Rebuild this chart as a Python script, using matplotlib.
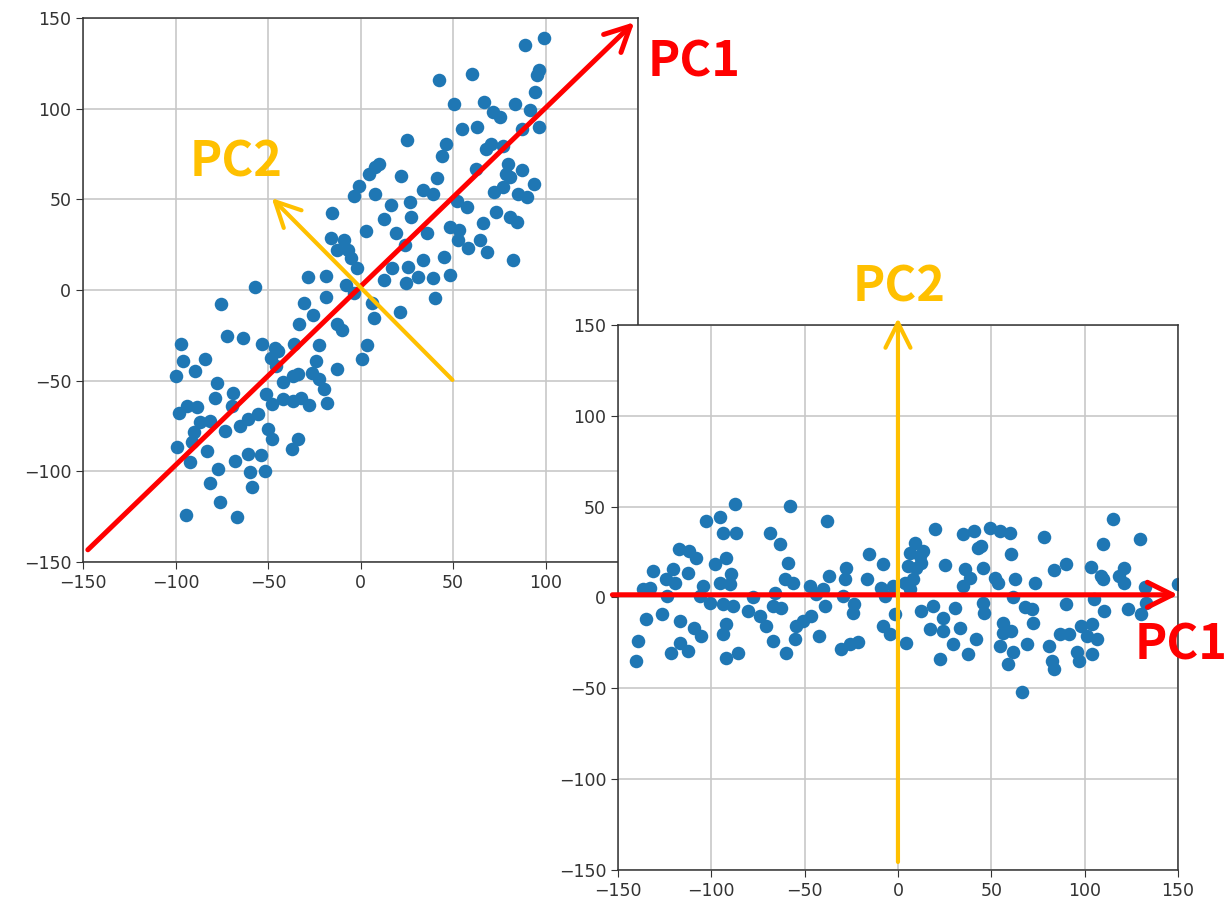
"""
PCA illustration: raw 2-D scatter with PC axes, and the same data rotated onto PC1/PC2.
"""

import matplotlib.pyplot as plt

plt.rcParams.update({
    "font.size": 12.5,
    "axes.edgecolor": "#333333",
    "axes.linewidth": 1.1,
    "xtick.color": "#333333",
    "ytick.color": "#333333",
    "xtick.major.size": 5,
    "ytick.major.size": 5,
    "grid.color": "#c8c8c8",
    "grid.linewidth": 1.2,
})

# original data (left panel)
raw_x = [
    -57.1, -75.5, -97.0, -95.9, -84.3, -89.5, -100.0, -72.0, -63.4, -53.0,
    -46.4, -44.6, -48.2, -45.5, -77.7, -78.6, -68.8, -69.7, -93.8, -98.2,
    -88.4, -86.6, -81.3, -90.2, -91.0, -99.0, -92.0, -83.0, -73.0, -65.0,
    -60.7, -55.4, -50.0, -47.7, -34.0, -36.9, -60.7, -53.6, -67.9, -76.8,
    -59.8, -51.8, -81.3, -58.4, -76.0, -94.6, -67.0, -50.9, -47.7, -42.0,
    -36.6, -32.0, -27.7, -18.0, -42.0, -36.6, -34.0, -26.0, -24.0, -22.7,
    -19.6, -12.5, 1.0,
    8.0, 4.5, -0.9, -3.6, -15.2, 2.7, -16.0, -9.0, -12.5, -7.0,
    -5.4, -1.8, -28.6, -18.8, -8.0, -3.6, -18.8, -30.4, -25.9, -33.0,
    -12.5, -9.8, -22.3, -35.7, 3.6, 6.2, 7.1,
    99.1, 89.0, 96.3, 95.4, 94.5, 91.7, 83.5, 96.3, 87.1, 60.5,
    42.6, 50.4, 66.9, 71.5, 75.2, 55.0, 63.2, 25.0, 46.0, 44.1,
    70.6, 67.8, 76.9, 9.9, 21.9, 41.2, 62.3, 79.7, 78.9, 87.1,
    93.6, 80.6, 72.4, 77.0, 85.3, 89.9, 33.8, 39.3, 26.5, 16.4,
    8.1, 52.2, 57.7, 73.3, 80.7, 84.4, 66.0, 48.5, 53.1, 27.4,
    12.9, 19.3, 35.7, 52.7, 58.2, 64.6, 68.3, 82.5, 44.9, 33.6,
    25.4, 17.1, 12.6, 24.5, 39.3, 48.5, 40.2, 21.4, 24.0, 31.3,
]
raw_y = [
    1.5, -7.7, -29.6, -39.2, -38.3, -44.7, -47.5, -25.5, -26.5, -29.6,
    -32.0, -33.8, -37.4, -42.0, -51.1, -59.3, -56.6, -63.9, -63.9, -67.9,
    -64.8, -73.0, -72.0, -78.5, -84.0, -86.7, -95.0, -89.0, -77.6, -74.8,
    -71.0, -68.4, -76.6, -82.0, -82.0, -87.6, -90.3, -91.2, -94.5, -98.9,
    -100.4, -100.0, -106.2, -108.6, -117.0, -124.0, -125.0, -57.5, -63.0, -60.0,
    -61.0, -59.3, -63.5, -62.4, -51.0, -47.5, -46.5, -45.6, -39.0, -49.0,
    -54.7, -43.8, -38.3,
    67.6, 63.9, 57.4, 51.9, 42.6, 32.4, 28.7, 27.8, 22.2, 22.2,
    17.6, 12.0, 7.4, 7.8, 2.8, -1.9, -3.7, -7.4, -13.9, -18.5,
    -18.5, -22.2, -30.5, -29.6, -30.5, -7.4, -15.7,
    139.1, 135.4, 121.1, 118.4, 109.2, 99.4, 102.4, 89.9, 89.0, 118.9,
    115.6, 102.4, 103.7, 98.2, 95.4, 89.0, 89.9, 82.6, 80.4, 73.8,
    80.7, 78.0, 79.3, 69.7, 62.7, 61.5, 67.0, 69.7, 64.2, 66.0,
    58.7, 62.4, 54.1, 56.9, 53.2, 51.4, 55.0, 53.2, 48.6, 46.8,
    53.2, 49.0, 46.0, 43.1, 40.4, 37.6, 36.7, 34.9, 33.1, 40.4,
    39.4, 31.2, 31.2, 27.5, 22.9, 27.5, 21.1, 16.5, 18.3, 16.5,
    12.8, 11.9, 5.5, 3.7, 6.4, 8.3, -4.6, -11.9, 25.0, 7.4,
]

# projected data (right panel)
pc1 = [
    -87.5, -58.0, -102.7, -95.2, -93.8, -86.6, -68.7, -63.3, -58.9, -117.3,
    -112.0, -108.0, -131.2, -120.5, -112.5, -124.0, -119.6, -98.2, -92.0, -89.3,
    -95.5, -90.2, -104.5, -136.6, -133.0, -123.9, -106.0, -100.9, -93.8, -88.4,
    -77.7, -80.4, -74.1, -70.5, -67.0, -62.5, -66.0, -60.7, -56.2, -134.8,
    -126.3, -117.0, -109.0, -105.5, -92.0, -93.8, -139.3, -140.2, -117.0, -121.4,
    -112.5, -92.0, -85.8, -67.0, -59.8, -54.5, -55.4,
    -38.0, -15.5, -8.0, -27.7, -28.6, -37.0, -16.6, -47.3, -40.2, -43.8,
    -29.5, -23.3, -24.1, -39.3, -46.4, -50.9, -42.3, -30.4, -25.9, -21.4,
    -8.9, -7.1, -2.7, -1.8, -8.0, -4.5, 4.1, 3.6, 5.4, 6.3,
    8.9, 11.6, 13.4, 8.0, 6.3, 9.8, 12.5, 19.6, 25.0, 34.8,
    41.0, 42.9, 35.7, 38.4, 34.8, 12.5, 18.8, 30.4, 23.9, 17.1,
    24.1, 33.0, 29.5, 22.3, 37.5, 42.0,
    44.6, 49.1, 54.5, 59.9, 60.8, 78.0, 115.0, 109.6, 129.4, 45.5,
    51.8, 53.6, 62.6, 73.5, 83.4, 89.8, 103.2, 108.7, 109.6, 120.9,
    118.2, 120.9, 132.1, 150.2, 61.7, 45.5, 45.9, 68.0, 71.7, 72.6,
    89.8, 105.0, 110.5, 123.1, 130.3, 133.0, 56.3, 56.3, 60.8, 54.5,
    61.7, 59.0, 68.9, 80.7, 82.5, 83.4, 87.0, 91.5, 96.0, 97.8,
    101.4, 104.1, 104.1, 106.8, 97.1, 66.2,
]
pc2 = [
    51.3, 50.4, 42.1, 44.5, 35.7, 35.7, 35.7, 29.3, 19.2, 26.5,
    25.6, 21.9, 14.6, 15.5, 13.7, 10.0, 8.2, 18.3, 21.9, 12.7,
    8.2, 7.2, 6.3, 4.5, 5.4, 0.8, 0.8, -2.8, -3.8, -4.7,
    0.0, -7.4, -10.2, -15.7, -4.7, -5.6, 2.7, 10.0, 8.2, -12.0,
    -9.3, -13.0, -16.6, -21.2, -14.8, -20.3, -24.0, -35.0, -24.9, -30.4,
    -29.5, -33.1, -30.4, -24.0, -30.4, -15.7, -23.0,
    42.1, 23.8, 18.3, 16.4, 10.0, 11.8, 10.4, 6.3, 4.5, 1.7,
    0.8, -3.8, -8.4, -4.7, -10.2, -12.9, -21.2, -28.5, -25.8, -24.5,
    5.4, 0.8, 6.3, -9.3, -15.7, -20.3, -24.9, 8.2, 17.3, 24.7,
    30.2, 22.8, 25.6, 10.0, 4.5, 16.4, 19.2, 37.9, 17.7, 34.8,
    36.6, 27.4, 15.5, 10.9, 6.3, -7.4, -4.7, -5.6, -11.1, -17.5,
    -18.4, -16.6, -25.8, -34.0, -31.3, -23.0,
    28.4, 38.5, 36.6, 35.7, 23.8, 33.5, 43.4, 29.3, 32.4, 16.5,
    11.0, 8.2, 10.1, 8.2, 15.2, 18.3, 17.0, 11.9, 10.1, 16.5,
    11.9, 8.2, 5.5, 7.3, 0.0, -2.8, -8.3, -5.5, -6.4, -13.8,
    -3.7, -0.9, -7.3, -6.4, -9.2, -2.8, -13.8, -19.3, -18.3, -26.6,
    -30.2, -36.7, -25.7, -26.6, -34.8, -39.4, -20.2, -20.2, -30.2, -15.6,
    -21.1, -14.7, -31.2, -22.9, -34.8, -52.2,
]

ticks = [-150, -100, -50, 0, 50, 100, 150]

# arrow end points (tail, head) in data units
left_pc1 = ((-147.4, -143.3), (148.0, 147.7))
left_pc2 = ((49.7, -49.6), (-48.0, 50.7))
right_pc1 = ((-153.0, 1.5), (150.0, 1.5))
right_pc2 = ((0.0, -145.6), (0.0, 153.8))

RED = "#ff0000"
GOLD = "#ffc000"
DOT = "#1f77b4"
LABEL_FONT = ["Noto Sans CJK JP", "DejaVu Sans"]


def setup_axes(ax):
    ax.set_xlim(-150, 150)
    ax.set_ylim(-150, 150)
    ax.set_xticks(ticks)
    ax.set_yticks(ticks)
    ax.set_axisbelow(True)
    ax.grid(True)


def draw_arrow(ax, tail, head, color, lw):
    ax.annotate("", xy=head, xytext=tail, xycoords="data", textcoords="data",
                annotation_clip=False,
                arrowprops=dict(arrowstyle="->,head_length=0.9,head_width=0.45",
                                color=color, lw=lw, shrinkA=0, shrinkB=0,
                                mutation_scale=20))


fig = plt.figure(figsize=(12.3, 9.02), dpi=100)

ax1 = fig.add_axes([0.0675, 0.377, 0.4512, 0.603])
setup_axes(ax1)
ax1.scatter(raw_x, raw_y, s=95, color=DOT, linewidths=0)
draw_arrow(ax1, *left_pc1, RED, 3.6)
draw_arrow(ax1, *left_pc2, GOLD, 3.0)

ax2 = fig.add_axes([0.5024, 0.0355, 0.4553, 0.6042])
setup_axes(ax2)
ax2.scatter(pc1, pc2, s=95, color=DOT, linewidths=0)
draw_arrow(ax2, *right_pc1, RED, 3.6)
draw_arrow(ax2, *right_pc2, GOLD, 3.0)

label_kw = dict(family=LABEL_FONT, weight="bold", size=35, va="baseline", ha="left")
fig.text(0.5268, 0.9157, "PC1", color=RED, **label_kw)
fig.text(0.1545, 0.8038, "PC2", color=GOLD, **label_kw)
fig.text(0.6935, 0.6652, "PC2", color=GOLD, **label_kw)
fig.text(0.9225, 0.2683, "PC1", color=RED, **label_kw)

fig.savefig("out.png", dpi=100)
